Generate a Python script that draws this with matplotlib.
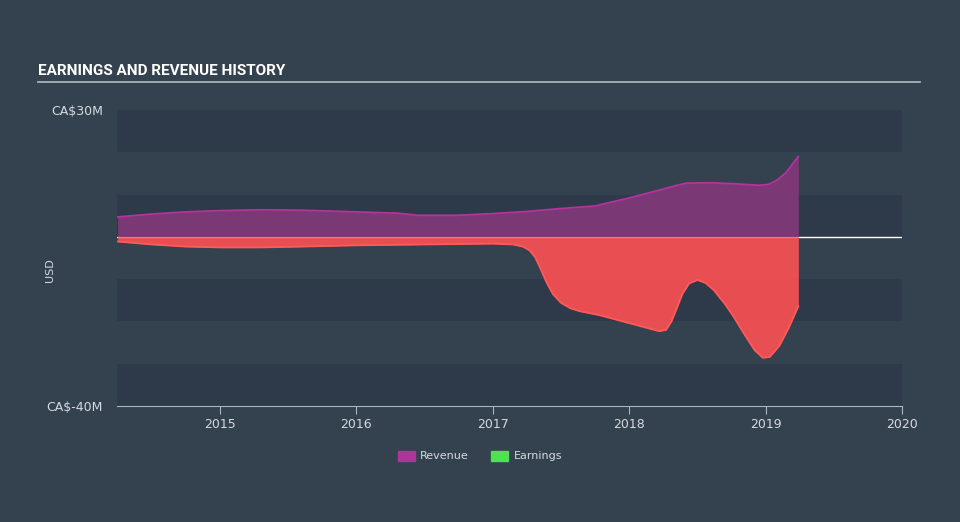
import matplotlib.pyplot as plt
import numpy as np
from matplotlib.patches import Patch

# values (CA$ millions)
rev_x = [2014.25, 2014.5, 2014.75, 2015.0, 2015.3, 2015.6, 2016.0, 2016.3, 2016.45, 2016.75,
         2017.0, 2017.25, 2017.5, 2017.75, 2018.0, 2018.25, 2018.35, 2018.42, 2018.6, 2018.8,
         2018.95, 2019.02, 2019.08, 2019.15, 2019.24]
rev_y = [4.7, 5.4, 5.9, 6.2, 6.4, 6.3, 5.9, 5.6, 5.1, 5.1,
         5.5, 6.0, 6.7, 7.3, 9.2, 11.3, 12.2, 12.7, 12.8, 12.5,
         12.2, 12.4, 13.3, 15.2, 19.0]
earn_x = [2014.25, 2014.5, 2014.75, 2015.0, 2015.3, 2015.6, 2016.0, 2016.5, 2017.0, 2017.15,
          2017.22, 2017.27, 2017.31, 2017.35, 2017.39, 2017.44, 2017.5, 2017.57, 2017.64, 2017.78,
          2018.0, 2018.15, 2018.22, 2018.27, 2018.31, 2018.35, 2018.39, 2018.44, 2018.5, 2018.56,
          2018.62, 2018.7, 2018.76, 2018.84, 2018.92, 2018.98, 2019.03, 2019.1, 2019.17, 2019.24]
earn_y = [-1.1, -1.8, -2.3, -2.5, -2.5, -2.3, -2.0, -1.8, -1.6, -1.8,
          -2.3, -3.2, -4.8, -7.5, -10.5, -13.5, -15.6, -16.9, -17.6, -18.5,
          -20.4, -21.7, -22.3, -22.0, -20.0, -16.8, -13.5, -11.0, -10.2, -10.9,
          -12.6, -15.8, -18.6, -22.8, -26.8, -28.6, -28.4, -25.8, -21.5, -16.4]
years = [2015, 2016, 2017, 2018, 2019, 2020]
ylim = (-40, 30)

bg = '#34414f'; band = '#2e3a49'; txt = '#d5dae0'
fig = plt.figure(figsize=(9.6, 5.22), dpi=100, facecolor=bg)
ax = fig.add_axes([117/960, 1-406/522, 785/960, 296/522], facecolor=bg)

# alternating bands
for lo in range(-40, 30, 20):
    ax.axhspan(lo, lo+10, color=band, lw=0, zorder=0)

ax.axhline(0, color='white', lw=1, zorder=1)
ax.fill_between(rev_x, 0, rev_y, color='#83387a', alpha=0.9, lw=0, zorder=2)
ax.plot(rev_x, rev_y, color='#b5339c', lw=1.3, zorder=3)
ax.fill_between(earn_x, 0, earn_y, color='#fd5153', alpha=0.9, lw=0, zorder=2)
ax.plot(earn_x, earn_y, color='#ff5a5a', lw=1.3, zorder=3)

ax.set_xlim(2014.245, 2020)
ax.set_ylim(*ylim)
for s in ['top', 'right', 'left']:
    ax.spines[s].set_visible(False)
ax.spines['bottom'].set_color('#aab6c4')
ax.set_xticks(years)
ax.set_xticklabels([str(y) for y in years], color=txt, fontsize=9)
ax.tick_params(axis='x', length=6, color='#aab6c4', pad=3)
ax.set_yticks([30, -40])
ax.set_yticklabels(['CA$30M', 'CA$-40M'], color=txt, fontsize=9)
ax.tick_params(axis='y', length=0, pad=10)
ax.text(-0.085, 0.46, 'USD', transform=ax.transAxes, rotation=90, color=txt,
        fontsize=8, ha='center', va='center')

fig.text(38/960, 1-75/522, 'EARNINGS AND REVENUE HISTORY', color='white', fontsize=11,
         weight='bold', family=['Roboto', 'DejaVu Sans'], va='baseline')
fig.add_artist(plt.Line2D([38/960, 920/960], [1-81.5/522]*2, color='#a9b0b8', lw=1.3))

h = [Patch(color='#b0359a', label='Revenue'), Patch(color='#4fe24f', label='Earnings')]
fig.legend(handles=h, loc='center', bbox_to_anchor=(0.5, 1-456/522), ncol=2, frameon=False,
           fontsize=8, labelcolor=txt, handlelength=1.5, handleheight=1.0, columnspacing=2.0,
           handletextpad=0.5)

fig.savefig('out.png', dpi=100, facecolor=bg)
